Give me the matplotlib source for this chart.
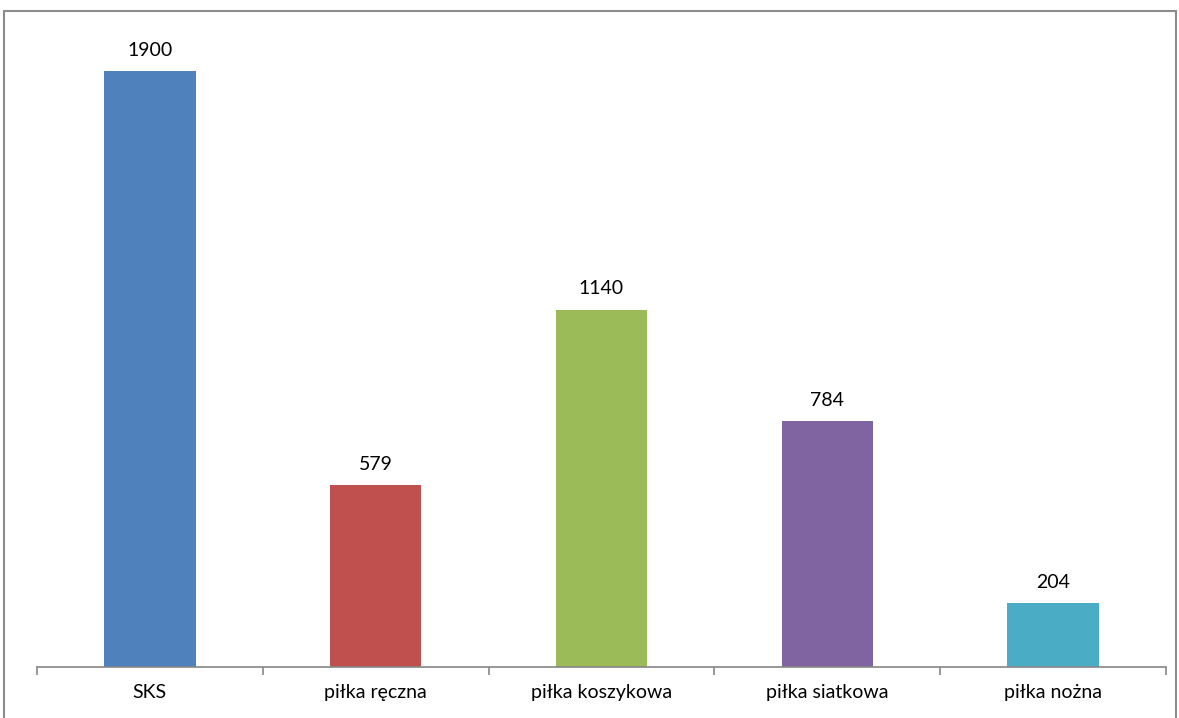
import matplotlib.pyplot as plt
from matplotlib.patches import Rectangle

categories = ['SKS', 'piłka ręczna', 'piłka koszykowa', 'piłka siatkowa', 'piłka nożna']
values = [1900, 579, 1140, 784, 204]
colors = ['#4F81BD', '#C0504D', '#9BBB59', '#8064A2', '#4BACC6']

plt.rcParams['font.family'] = ['Lato', 'DejaVu Sans']

W, H = 1179, 718
fig = plt.figure(figsize=(W / 100, H / 100), dpi=100)

# outer chart frame
fig.patches.append(Rectangle((4 / W, -0.05), (1176 - 4) / W, 1.05 - 11 / H,
                             transform=fig.transFigure, fill=False,
                             edgecolor='#8c8c8c', linewidth=1.5))

ax = fig.add_axes([37 / W, (H - 667) / H, (1166 - 37) / W, (667 - 40) / H])

x = range(len(categories))
bars = ax.bar(x, values, width=0.405, color=colors)
for b, v in zip(bars, values):
    ax.annotate(str(v), (b.get_x() + b.get_width() / 2, v), xytext=(0, 9),
                textcoords='offset points', ha='center', va='bottom', fontsize=14)

ax.set_xlim(-0.5, len(categories) - 0.5)
ax.set_ylim(0, 2000)
ax.set_yticks([])
for s in ['top', 'right', 'left']:
    ax.spines[s].set_visible(False)
ax.spines['bottom'].set_color('#868686')
ax.spines['bottom'].set_linewidth(1.2)

ax.set_xticks([i - 0.5 for i in range(len(categories) + 1)], minor=False)
ax.set_xticklabels([])
ax.tick_params(axis='x', which='major', length=6, color='#868686', width=1.2)
ax.set_xticks(list(x), minor=True)
ax.set_xticklabels(categories, minor=True, fontsize=14)
ax.tick_params(axis='x', which='minor', length=0, pad=12)

fig.savefig('out.png', dpi=100)
